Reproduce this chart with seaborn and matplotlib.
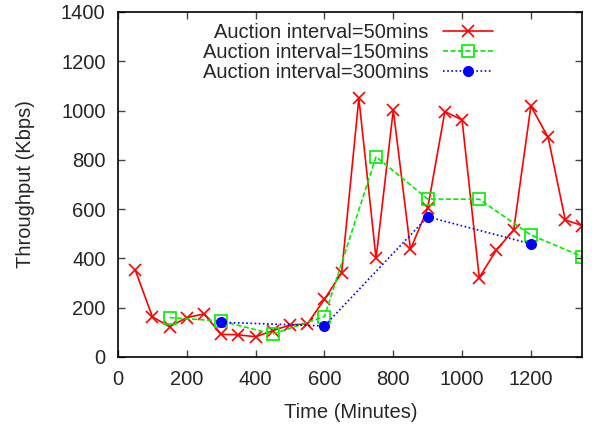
import numpy as np
import pandas as pd
import seaborn as sns
import matplotlib
matplotlib.use("Agg")
import matplotlib.pyplot as plt

# data
time_50 = [50, 100, 150, 200, 250, 300, 350, 400, 450, 500, 550, 600, 650, 700,
           750, 800, 850, 900, 950, 1000, 1050, 1100, 1150, 1200, 1250, 1300, 1350]
thr_50 = [353, 163, 123, 160, 175, 92, 90, 82, 107, 130, 134, 234, 342, 1050,
          400, 1002, 437, 603, 996, 962, 322, 435, 515, 1018, 892, 556, 533]

time_150 = [150, 300, 450, 600, 750, 900, 1050, 1200, 1350]
thr_150 = [160, 146, 93, 164, 813, 641, 640, 495, 407]

time_300 = [300, 600, 900, 1200]
thr_300 = [141, 126, 569, 459]

labels = ["Auction interval=50mins", "Auction interval=150mins", "Auction interval=300mins"]

sns.set_style("ticks")
plt.rcParams['font.family'] = ['Liberation Sans', 'DejaVu Sans']
fs = 14.5

fig = plt.figure(figsize=(5.94, 4.25), dpi=100)
ax = fig.add_axes([0.1987, 0.16, 0.7819, 0.8118])

sns.lineplot(x=time_50, y=thr_50, ax=ax, color='#ff0000', linestyle='-', linewidth=1.2,
             marker='x', markersize=8.6, markeredgewidth=1.2, markeredgecolor='#ff0000',
             label=labels[0])
sns.lineplot(x=time_150, y=thr_150, ax=ax, color='#00ee00', linestyle=(0, (3, 1.5)), linewidth=1.2,
             marker='s', markersize=8, markerfacecolor='none', markeredgewidth=1.2,
             markeredgecolor='#00ee00', label=labels[1])
sns.lineplot(x=time_300, y=thr_300, ax=ax, color='#0000ff', linestyle=(0, (1, 1.5)), linewidth=1.2,
             marker='o', markersize=7.2, markeredgecolor='#0000ff', label=labels[2])

ax.set_xlim(0, 1350)
ax.set_ylim(0, 1400)
ax.set_xticks(np.arange(0, 1201, 200))
ax.set_yticks(np.arange(0, 1401, 200))
ax.tick_params(axis='both', direction='in', top=True, right=True, length=5, width=1,
               color='#444444', labelsize=fs)
ax.tick_params(axis='y', pad=9)
ax.tick_params(axis='x', pad=9.5)
for s in ax.spines.values():
    s.set_visible(True)
    s.set_linewidth(1.2)
    s.set_color('black')

ax.set_xlabel("Time (Minutes)", fontsize=fs, labelpad=10)
ax.set_ylabel("Throughput (Kbps)", fontsize=fs, labelpad=19)

leg = ax.legend(loc='upper right', bbox_to_anchor=(0.838, 1.009), frameon=False,
                markerfirst=False, fontsize=fs, handlelength=2.5, handletextpad=0.7,
                labelspacing=0.05, borderpad=0.2, alignment='right')
for t in leg.get_texts():
    t.set_ha('right')

fig.savefig("out.png", dpi=100)
